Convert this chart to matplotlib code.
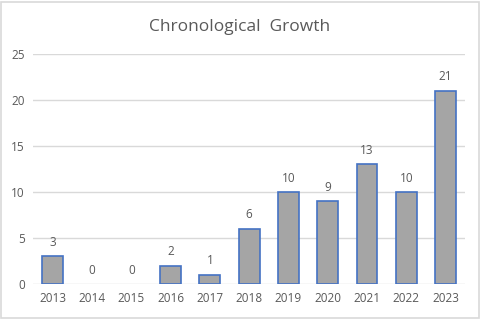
import matplotlib
matplotlib.use("Agg")
import matplotlib.pyplot as plt
from matplotlib.patches import Rectangle

YEARS = ["2013", "2014", "2015", "2016", "2017", "2018",
         "2019", "2020", "2021", "2022", "2023"]
COUNTS = [3, 0, 0, 2, 1, 6, 10, 9, 13, 10, 21]

TEXT = "#595959"

plt.rcParams['font.family'] = ['Open Sans', 'DejaVu Sans']

fig = plt.figure(figsize=(4.8, 3.19), dpi=100)
ax = fig.add_axes([0.069, 0.110, 0.90, 0.721])

x = range(len(YEARS))
# zero-height bars get no outline, like the original
edges = ["#4472c4" if v > 0 else "none" for v in COUNTS]
ax.bar(x, COUNTS, width=0.53, color="#a5a5a5",
       edgecolor=edges, linewidth=1.2, zorder=3)
for xi, v in zip(x, COUNTS):
    ax.text(xi, v + 0.8, str(v), ha="center", va="bottom",
            fontsize=8.5, color=TEXT)

ax.set_xlim(-0.5, len(YEARS) - 0.5)
ax.set_ylim(0, 25)
ax.set_yticks(range(0, 26, 5))
ax.set_xticks(list(x))
ax.set_xticklabels(YEARS)
ax.tick_params(length=0, labelsize=8.5, colors=TEXT, pad=6)
ax.grid(axis="y", color="#d9d9d9", linewidth=1, zorder=0)
for s in ax.spines.values():
    s.set_visible(False)

fig.text(0.5, 0.915, "Chronological  Growth", ha="center", va="center",
         fontsize=12.5, color=TEXT)

# outer chart border
fig.patches.append(Rectangle((0.003, 0.004), 0.994, 0.99, transform=fig.transFigure,
                             fill=False, edgecolor="#d9d9d9", linewidth=1.2))

fig.savefig("out.png", dpi=100)
